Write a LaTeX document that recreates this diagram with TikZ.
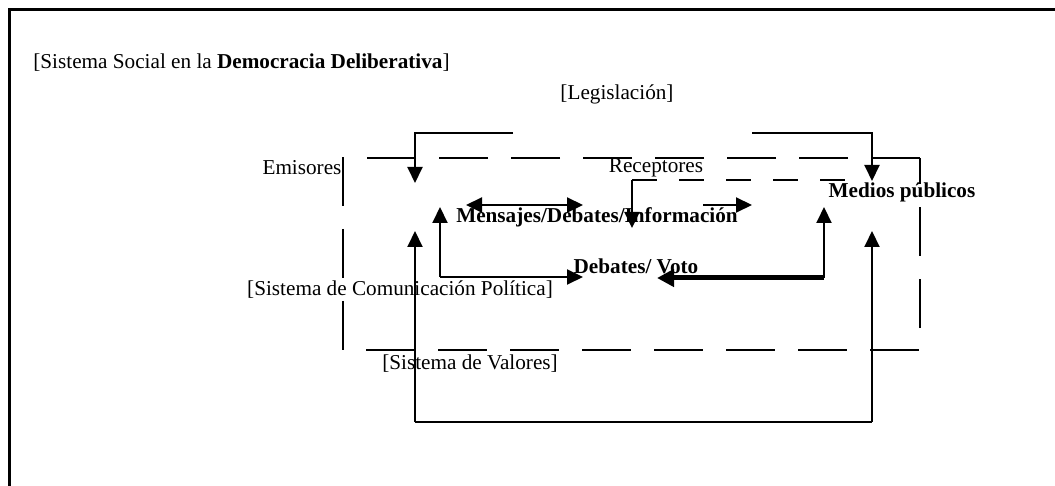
\documentclass[tikz,border=0pt]{standalone}
\usepackage{fontspec}
\setmainfont{Liberation Serif}
\usetikzlibrary{arrows.meta,positioning}
\tikzstyle{txtNode} = [inner sep=0pt, font=\fontsize{10.6}{12}\selectfont]
\tikzstyle{txtNodeB} = [txtNode, font=\fontsize{10.6}{12}\selectfont\bfseries]
\tikzstyle{arrow} = [line width=1pt,-{Triangle[length=8pt,width=7.5pt]},draw=black]
\tikzstyle{arrowD} = [line width=1pt,{Triangle[length=8pt,width=7.5pt]}-{Triangle[length=8pt,width=7.5pt]},draw=black]
\tikzstyle{arrowT} = [line width=2.5pt,-{Triangle[length=8.5pt,width=8.5pt]},draw=black]
\tikzstyle{lineN} = [line width=1pt,draw=black]
\tikzstyle{frameLine} = [line width=1.5pt,draw=black]
\tikzstyle{dashBox} = [line width=1pt, dash pattern=on 24.5pt off 11.5pt]
\tikzstyle{dashIn} = [line width=1pt, dash pattern=on 12.5pt off 11pt]

\begin{document}
\begin{tikzpicture}[x=0.5pt,y=-0.5pt]
        \useasboundingbox (0,0) rectangle (1055,486);
        \draw [frameLine] (9,10) rectangle (1075,500);

        % texts
        \node (soc) [txtNode, anchor=west] at (33,63) {[Sistema Social en la \textbf{Democracia Deliberativa}]};
        \node (leg) [txtNode] at (617,94) {[Legislación]};
        \node (emi) [txtNode] at (302,168) {Emisores};
        \node (rec) [txtNode] at (656,168) {Receptores};
        \node (med) [txtNodeB] at (902,192) {Medios públicos};
        \node (men) [txtNodeB] at (597,217) {Mensajes/Debates/Información};
        \node (vot) [txtNodeB] at (636,266) {Debates/ Voto};
        \node (scp) [txtNode] at (400,290) {[Sistema de Comunicación Política]};
        \node (val) [txtNode] at (470,364) {[Sistema de Valores]};

        % dashed boxes
        \coordinate (b1) at (343,158);
        \coordinate (b2) at (920,350);
        \draw [dashBox] (b2 |- b1) -- (b1) -- (b1 |- b2) -- (b2) -- cycle;
        \coordinate (r1) at (632,180);
        \coordinate (r2) at (848,180);
        \coordinate (r3) at (632,228);
        \draw [dashIn] (r1) -- (r2);
        \draw [arrow] (r1) -- (r3);

        % legislacion
        \coordinate (l1) at (513,133);
        \coordinate (l2) at (415,183);
        \coordinate (l3) at (752,133);
        \coordinate (l4) at (872,181);
        \draw [arrow] (l1) -| (l2);
        \draw [arrow] (l3) -| (l4);

        % mensajes
        \coordinate (m1) at (466,205);
        \coordinate (m2) at (583,205);
        \coordinate (m3) at (703,205);
        \coordinate (m4) at (752,205);
        \draw [arrowD] (m1) -- (m2);
        \draw [arrow] (m3) -- (m4);

        % debates / voto
        \coordinate (d1) at (440,277);
        \coordinate (d2) at (440,207);
        \coordinate (d3) at (583,277);
        \coordinate (d4) at (824,278);
        \coordinate (d5) at (824,207);
        \coordinate (d6) at (657,278);
        \draw [arrow] (d1) -- (d2);
        \draw [arrow] (d1) -- (d3);
        \draw [arrow] (d4) -- (d5);
        \draw [arrowT] (d4) -- (d6);

        % valores
        \coordinate (v1) at (415,422);
        \coordinate (v2) at (415,231);
        \coordinate (v3) at (872,422);
        \coordinate (v4) at (872,231);
        \draw [arrow] (v1) -- (v2);
        \draw [arrow] (v3) -- (v4);
        \draw [lineN] (v1) -- (v3);
    \end{tikzpicture}
\end{document}
